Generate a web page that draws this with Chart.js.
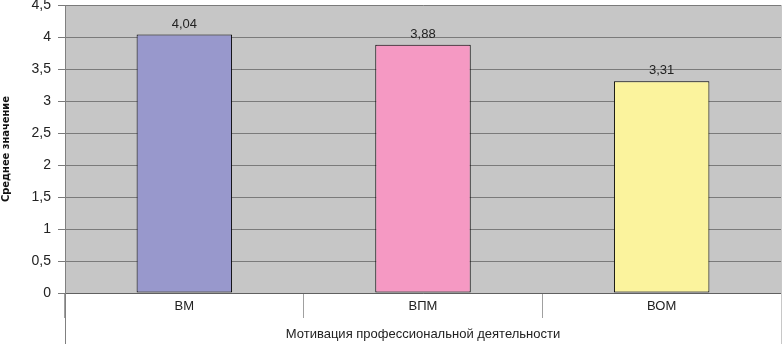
<!DOCTYPE html>
<html>
<head>
<meta charset="utf-8">
<script src="https://cdn.jsdelivr.net/npm/chart.js@4"></script>
<style>
  html, body { margin: 0; padding: 0; background: #fff; }
  #wrap { width: 784px; height: 344px; }
</style>
</head>
<body>
<div id="wrap"><canvas id="motivChart" width="784" height="344"></canvas></div>
<script>
const categories = ["ВМ", "ВПМ", "ВОМ"];
const meanValues = [4.04, 3.88, 3.31];
const barColors = ["#9898cc", "#f599c3", "#fbf39d"];
const yTitle = "Среднее значение";
const xTitle = "Мотивация профессиональной деятельности";

const fmt = v => String(v).replace(".", ",");

// gray plot background + side lines reaching to the bottom
const frame = {
  id: "frame",
  beforeDraw(chart) {
    const { ctx, chartArea: a } = chart;
    ctx.save();
    ctx.fillStyle = "#c6c6c6";
    ctx.fillRect(a.left, a.top, a.right - a.left, a.bottom - a.top);
    ctx.restore();
  },
  afterDraw(chart) {
    const { ctx, chartArea: a } = chart;
    ctx.save();
    ctx.lineWidth = 1;
    ctx.strokeStyle = "#808080";
    ctx.beginPath();
    ctx.moveTo(a.left + 0.5, a.top);
    ctx.lineTo(a.left + 0.5, chart.height);
    ctx.stroke();
    ctx.strokeStyle = "#c8c8c8";
    ctx.beginPath();
    ctx.moveTo(a.right + 0.5, a.top);
    ctx.lineTo(a.right + 0.5, chart.height);
    ctx.stroke();
    ctx.restore();
  }
};

// value labels above bars
const valueLabels = {
  id: "valueLabels",
  afterDatasetsDraw(chart) {
    const { ctx } = chart;
    const meta = chart.getDatasetMeta(0);
    ctx.save();
    ctx.font = "13px 'Liberation Sans', Arial, sans-serif";
    ctx.fillStyle = "#222";
    ctx.textAlign = "center";
    ctx.textBaseline = "bottom";
    meta.data.forEach((bar, i) => {
      ctx.fillText(fmt(meanValues[i]), bar.x, bar.y - 4);
    });
    ctx.restore();
  }
};

new Chart(document.getElementById("motivChart"), {
  type: "bar",
  data: {
    labels: categories,
    datasets: [{
      data: meanValues,
      backgroundColor: barColors,
      borderColor: "#000",
      borderWidth: 1,
      borderSkipped: false,
      categoryPercentage: 0.4,
      barPercentage: 1
    }]
  },
  options: {
    responsive: false,
    animation: false,
    layout: { padding: { top: 5, right: 3, left: 0, bottom: 0 } },
    plugins: {
      legend: { display: false },
      tooltip: { enabled: false }
    },
    scales: {
      x: {
        grid: {
          offset: true,
          drawOnChartArea: false,
          drawTicks: true,
          tickLength: 25,
          color: "#a0a0a0"
        },
        border: { display: true, color: "#606060" },
        ticks: {
          color: "#222",
          padding: -19,
          font: { size: 13, family: "'Liberation Sans', Arial, sans-serif" }
        },
        title: {
          display: true,
          text: xTitle,
          color: "#222",
          padding: { top: 4, bottom: 2 },
          font: { size: 13, family: "'Liberation Sans', Arial, sans-serif" }
        },
        afterFit(scale) { scale.height = 51; }
      },
      y: {
        min: 0,
        max: 4.5,
        grid: {
          color: "#7a7a7a",
          tickLength: 7
        },
        border: { display: true, color: "#808080" },
        ticks: {
          stepSize: 0.5,
          color: "#222",
          padding: 7,
          font: { size: 14, family: "'Liberation Sans', Arial, sans-serif" },
          callback: v => fmt(v)
        },
        title: {
          display: true,
          text: yTitle,
          color: "#111",
          padding: { top: 0, bottom: 0 },
          font: { size: 11, weight: "bold", family: "'Liberation Sans Narrow', 'DejaVu Sans Condensed', sans-serif" }
        },
        afterFit(scale) {
          scale.width = 65;
          scale.paddingTop = 0;
          scale.paddingBottom = 0;
        }
      }
    }
  },
  plugins: [frame, valueLabels]
});
</script>
</body>
</html>
